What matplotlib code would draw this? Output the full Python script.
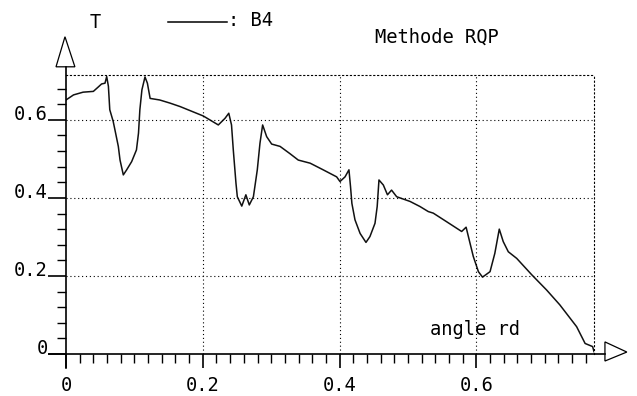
import matplotlib
matplotlib.use("Agg")
import matplotlib.pyplot as plt
from matplotlib.patches import Polygon
from matplotlib.lines import Line2D
from matplotlib.ticker import MultipleLocator, FixedLocator

# courbe T(angle), methode RQP, serie B4
angle = [0, 0.011, 0.025, 0.040, 0.047, 0.052, 0.057, 0.0595, 0.062, 0.064,
         0.069, 0.0716, 0.0765, 0.079, 0.0838, 0.0887, 0.096, 0.103, 0.106, 0.108,
         0.111, 0.1155, 0.119, 0.123, 0.137, 0.152, 0.167, 0.2007, 0.2227, 0.2325,
         0.238, 0.242, 0.2446, 0.2485, 0.2505, 0.257, 0.263, 0.268, 0.274, 0.2797,
         0.2836, 0.2875, 0.2934, 0.3007, 0.313, 0.327, 0.3396, 0.357, 0.376, 0.3957,
         0.4006, 0.408, 0.4137, 0.416, 0.418, 0.4225, 0.43, 0.4386, 0.4444, 0.4518,
         0.455, 0.4576, 0.464, 0.47, 0.476, 0.4835, 0.503, 0.5175, 0.5297, 0.537,
         0.5565, 0.5785, 0.585, 0.5896, 0.5955, 0.603, 0.609, 0.62, 0.627, 0.6335,
         0.6393, 0.6467, 0.659, 0.681, 0.7027, 0.722, 0.7466, 0.759, 0.77, 0.772]
T = [0.651, 0.664, 0.671, 0.673, 0.684, 0.692, 0.694, 0.711, 0.686, 0.626,
     0.596, 0.574, 0.532, 0.497, 0.459, 0.472, 0.493, 0.523, 0.566, 0.626,
     0.677, 0.710, 0.694, 0.655, 0.651, 0.643, 0.634, 0.610, 0.587, 0.604,
     0.617, 0.587, 0.523, 0.438, 0.403, 0.379, 0.408, 0.382, 0.403, 0.472,
     0.540, 0.587, 0.557, 0.538, 0.532, 0.514, 0.497, 0.489, 0.472, 0.454,
     0.442, 0.454, 0.472, 0.429, 0.386, 0.344, 0.309, 0.286, 0.301, 0.335,
     0.378, 0.446, 0.433, 0.408, 0.420, 0.403, 0.391, 0.378, 0.365, 0.361,
     0.339, 0.314, 0.325, 0.292, 0.250, 0.211, 0.197, 0.211, 0.258, 0.320,
     0.288, 0.262, 0.245, 0.203, 0.164, 0.126, 0.070, 0.027, 0.019, 0.006]

xticks = [0, 0.2, 0.4, 0.6]
xlabels = ["0", "0.2", "0.4", "0.6"]
yticks = [0, 0.2, 0.4, 0.6]
ylabels = ["0", "0.2", "0.4", "0.6"]
xmax, ymax = 0.772, 0.715

plt.rcParams["font.family"] = ["DejaVu Sans Mono"]
plt.rcParams["font.size"] = 13.5

W, H = 637, 396
fig = plt.figure(figsize=(W / 100, H / 100), dpi=100)

def fpx(x, y):
    return x / W, 1 - y / H

ax = fig.add_axes([66 / W, (H - 354) / H, (594 - 66) / W, (354 - 75) / H])
ax.set_xlim(0, xmax)
ax.set_ylim(0, ymax)

ax.plot(angle, T, color="#111111", lw=1.1)

# grille pointillee
dot = dict(color="black", lw=0.8, ls=(0, (1, 2.5)))
for v in xticks[1:]:
    ax.axvline(v, **dot)
for v in yticks[1:]:
    ax.axhline(v, **dot)
for s in ["top", "right"]:
    ax.spines[s].set_linestyle((0, (1, 2.5)))
    ax.spines[s].set_linewidth(0.8)
for s in ["left", "bottom"]:
    ax.spines[s].set_visible(False)

# axes prolonges + fleches
ax.plot([-0.025, 0.788], [0, 0], color="black", lw=1.2, clip_on=False)
ax.plot([0, 0], [-0.036, 0.735], color="black", lw=1.2, clip_on=False)
ax.add_patch(Polygon([[-0.0146, 0.736], [0.013, 0.736], [-0.0015, 0.813]],
                     closed=True, fill=False, ec="black", lw=0.9, clip_on=False))
ax.add_patch(Polygon([[0.788, 0.031], [0.788, -0.018], [0.820, 0.005]],
                     closed=True, fill=False, ec="black", lw=0.9, clip_on=False))

ax.xaxis.set_major_locator(FixedLocator(xticks))
ax.set_xticklabels(xlabels)
ax.xaxis.set_minor_locator(MultipleLocator(0.02))
ax.yaxis.set_major_locator(FixedLocator(yticks))
ax.set_yticklabels(ylabels)
ax.yaxis.set_minor_locator(MultipleLocator(0.04))
ax.tick_params(axis="x", which="major", direction="out", length=10, width=1.2, pad=6)
ax.tick_params(axis="x", which="minor", direction="out", length=6.5, width=1)
ax.tick_params(axis="y", which="major", direction="out", length=13, width=1.2, pad=0)
ax.tick_params(axis="y", which="minor", direction="out", length=6.5, width=1)
for lab in ax.get_yticklabels():
    lab.set_va("baseline")

# textes
fig.text(*fpx(95, 28), "T", ha="center", va="baseline")
fig.add_artist(Line2D([168 / W, 227 / W], [1 - 22 / H, 1 - 22 / H], color="black", lw=1.1))
fig.text(*fpx(228, 26), ": B4", ha="left", va="baseline")
fig.text(*fpx(375, 43), "Methode RQP", ha="left", va="baseline")
fig.text(*fpx(430, 335), "angle rd", ha="left", va="baseline")

fig.savefig("out.png", dpi=100)
